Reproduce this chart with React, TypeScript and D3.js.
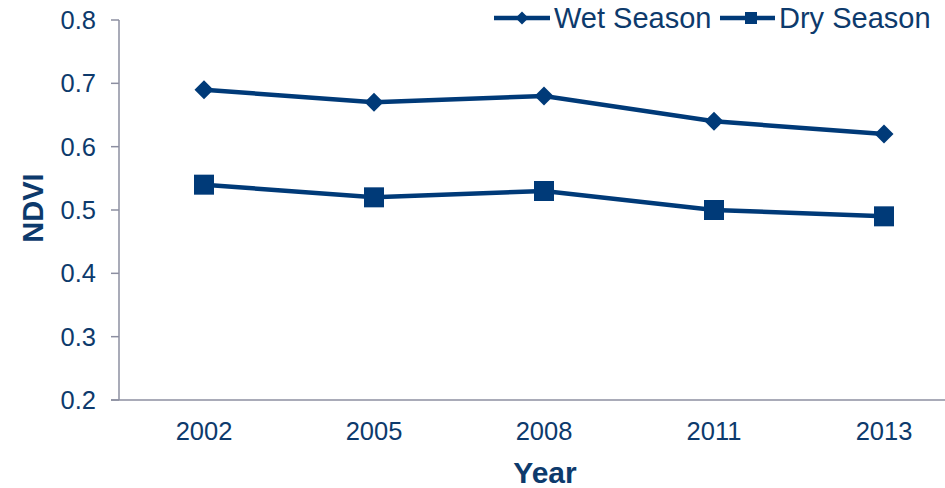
import React from "react";
import * as d3 from "d3";

const years = ["2002", "2005", "2008", "2011", "2013"];
const wetSeason = [0.69, 0.67, 0.68, 0.64, 0.62];
const drySeason = [0.54, 0.52, 0.53, 0.5, 0.49];
const yTicks = [0.2, 0.3, 0.4, 0.5, 0.6, 0.7, 0.8];

const W = 945;
const H = 488;
const LINE = "#003a78";
const TEXT = "#0d3a6c";
const AXIS = "#8c8fa1";
const FONT = "Arial, 'Liberation Sans', sans-serif";

export default function App() {
  const x = d3.scaleBand<string>().domain(years).range([119, 969]);
  const y = d3.scaleLinear().domain([0.2, 0.8]).range([400, 20]);
  const cx = (d: string) => (x(d) as number) + x.bandwidth() / 2;
  const line = d3
    .line<number>()
    .x((_, i) => cx(years[i]))
    .y((v) => y(v));
  const diamond = (s: number) => `M0,${-s}L${s},0L0,${s}L${-s},0Z`;

  return (
    <svg
      width={W}
      height={H}
      style={{ position: "absolute", left: 0, top: 0, display: "block" }}
    >
      <rect width={W} height={H} fill="#ffffff" />
      {/* y axis */}
      <line x1={119} x2={119} y1={y(0.8)} y2={y(0.2)} stroke={AXIS} strokeWidth={1.5} />
      {yTicks.map((t) => (
        <g key={t}>
          <line x1={111} x2={119} y1={y(t)} y2={y(t)} stroke={AXIS} strokeWidth={1.5} />
          <text
            x={96}
            y={y(t)}
            dy="0.35em"
            textAnchor="end"
            fontFamily={FONT}
            fontSize={25.5}
            fill={TEXT}
          >
            {t.toFixed(1)}
          </text>
        </g>
      ))}
      {/* x axis */}
      <line x1={111} x2={969} y1={y(0.2)} y2={y(0.2)} stroke={AXIS} strokeWidth={1.5} />
      {years.map((yr) => (
        <text
          key={yr}
          x={cx(yr)}
          y={440}
          textAnchor="middle"
          fontFamily={FONT}
          fontSize={25.5}
          fill={TEXT}
        >
          {yr}
        </text>
      ))}
      <text
        x={545}
        y={483}
        textAnchor="middle"
        fontFamily={FONT}
        fontSize={30}
        fontWeight="bold"
        fill={TEXT}
      >
        Year
      </text>
      <text
        transform={`translate(43,208) rotate(-90)`}
        textAnchor="middle"
        fontFamily={FONT}
        fontSize={29}
        fontWeight="bold"
        fill={TEXT}
      >
        NDVI
      </text>
      {/* series */}
      <path d={line(wetSeason) as string} fill="none" stroke={LINE} strokeWidth={4.5} />
      <path d={line(drySeason) as string} fill="none" stroke={LINE} strokeWidth={4.5} />
      {wetSeason.map((v, i) => (
        <path
          key={"w" + i}
          d={diamond(9.5)}
          transform={`translate(${cx(years[i])},${y(v)})`}
          fill={LINE}
        />
      ))}
      {drySeason.map((v, i) => (
        <rect
          key={"d" + i}
          x={cx(years[i]) - 10}
          y={y(v) - 10}
          width={20}
          height={20}
          fill={LINE}
        />
      ))}
      {/* legend */}
      <line x1={494} x2={550} y1={18} y2={18} stroke={LINE} strokeWidth={4.5} />
      <path d={diamond(6.5)} transform="translate(522,18)" fill={LINE} />
      <text x={554} y={28} fontFamily={FONT} fontSize={29} fill={TEXT}>
        Wet Season
      </text>
      <line x1={720} x2={775} y1={18} y2={18} stroke={LINE} strokeWidth={4.5} />
      <rect x={745} y={12} width={12} height={12} fill={LINE} />
      <text x={779} y={28} fontFamily={FONT} fontSize={29} fill={TEXT}>
        Dry Season
      </text>
    </svg>
  );
}
